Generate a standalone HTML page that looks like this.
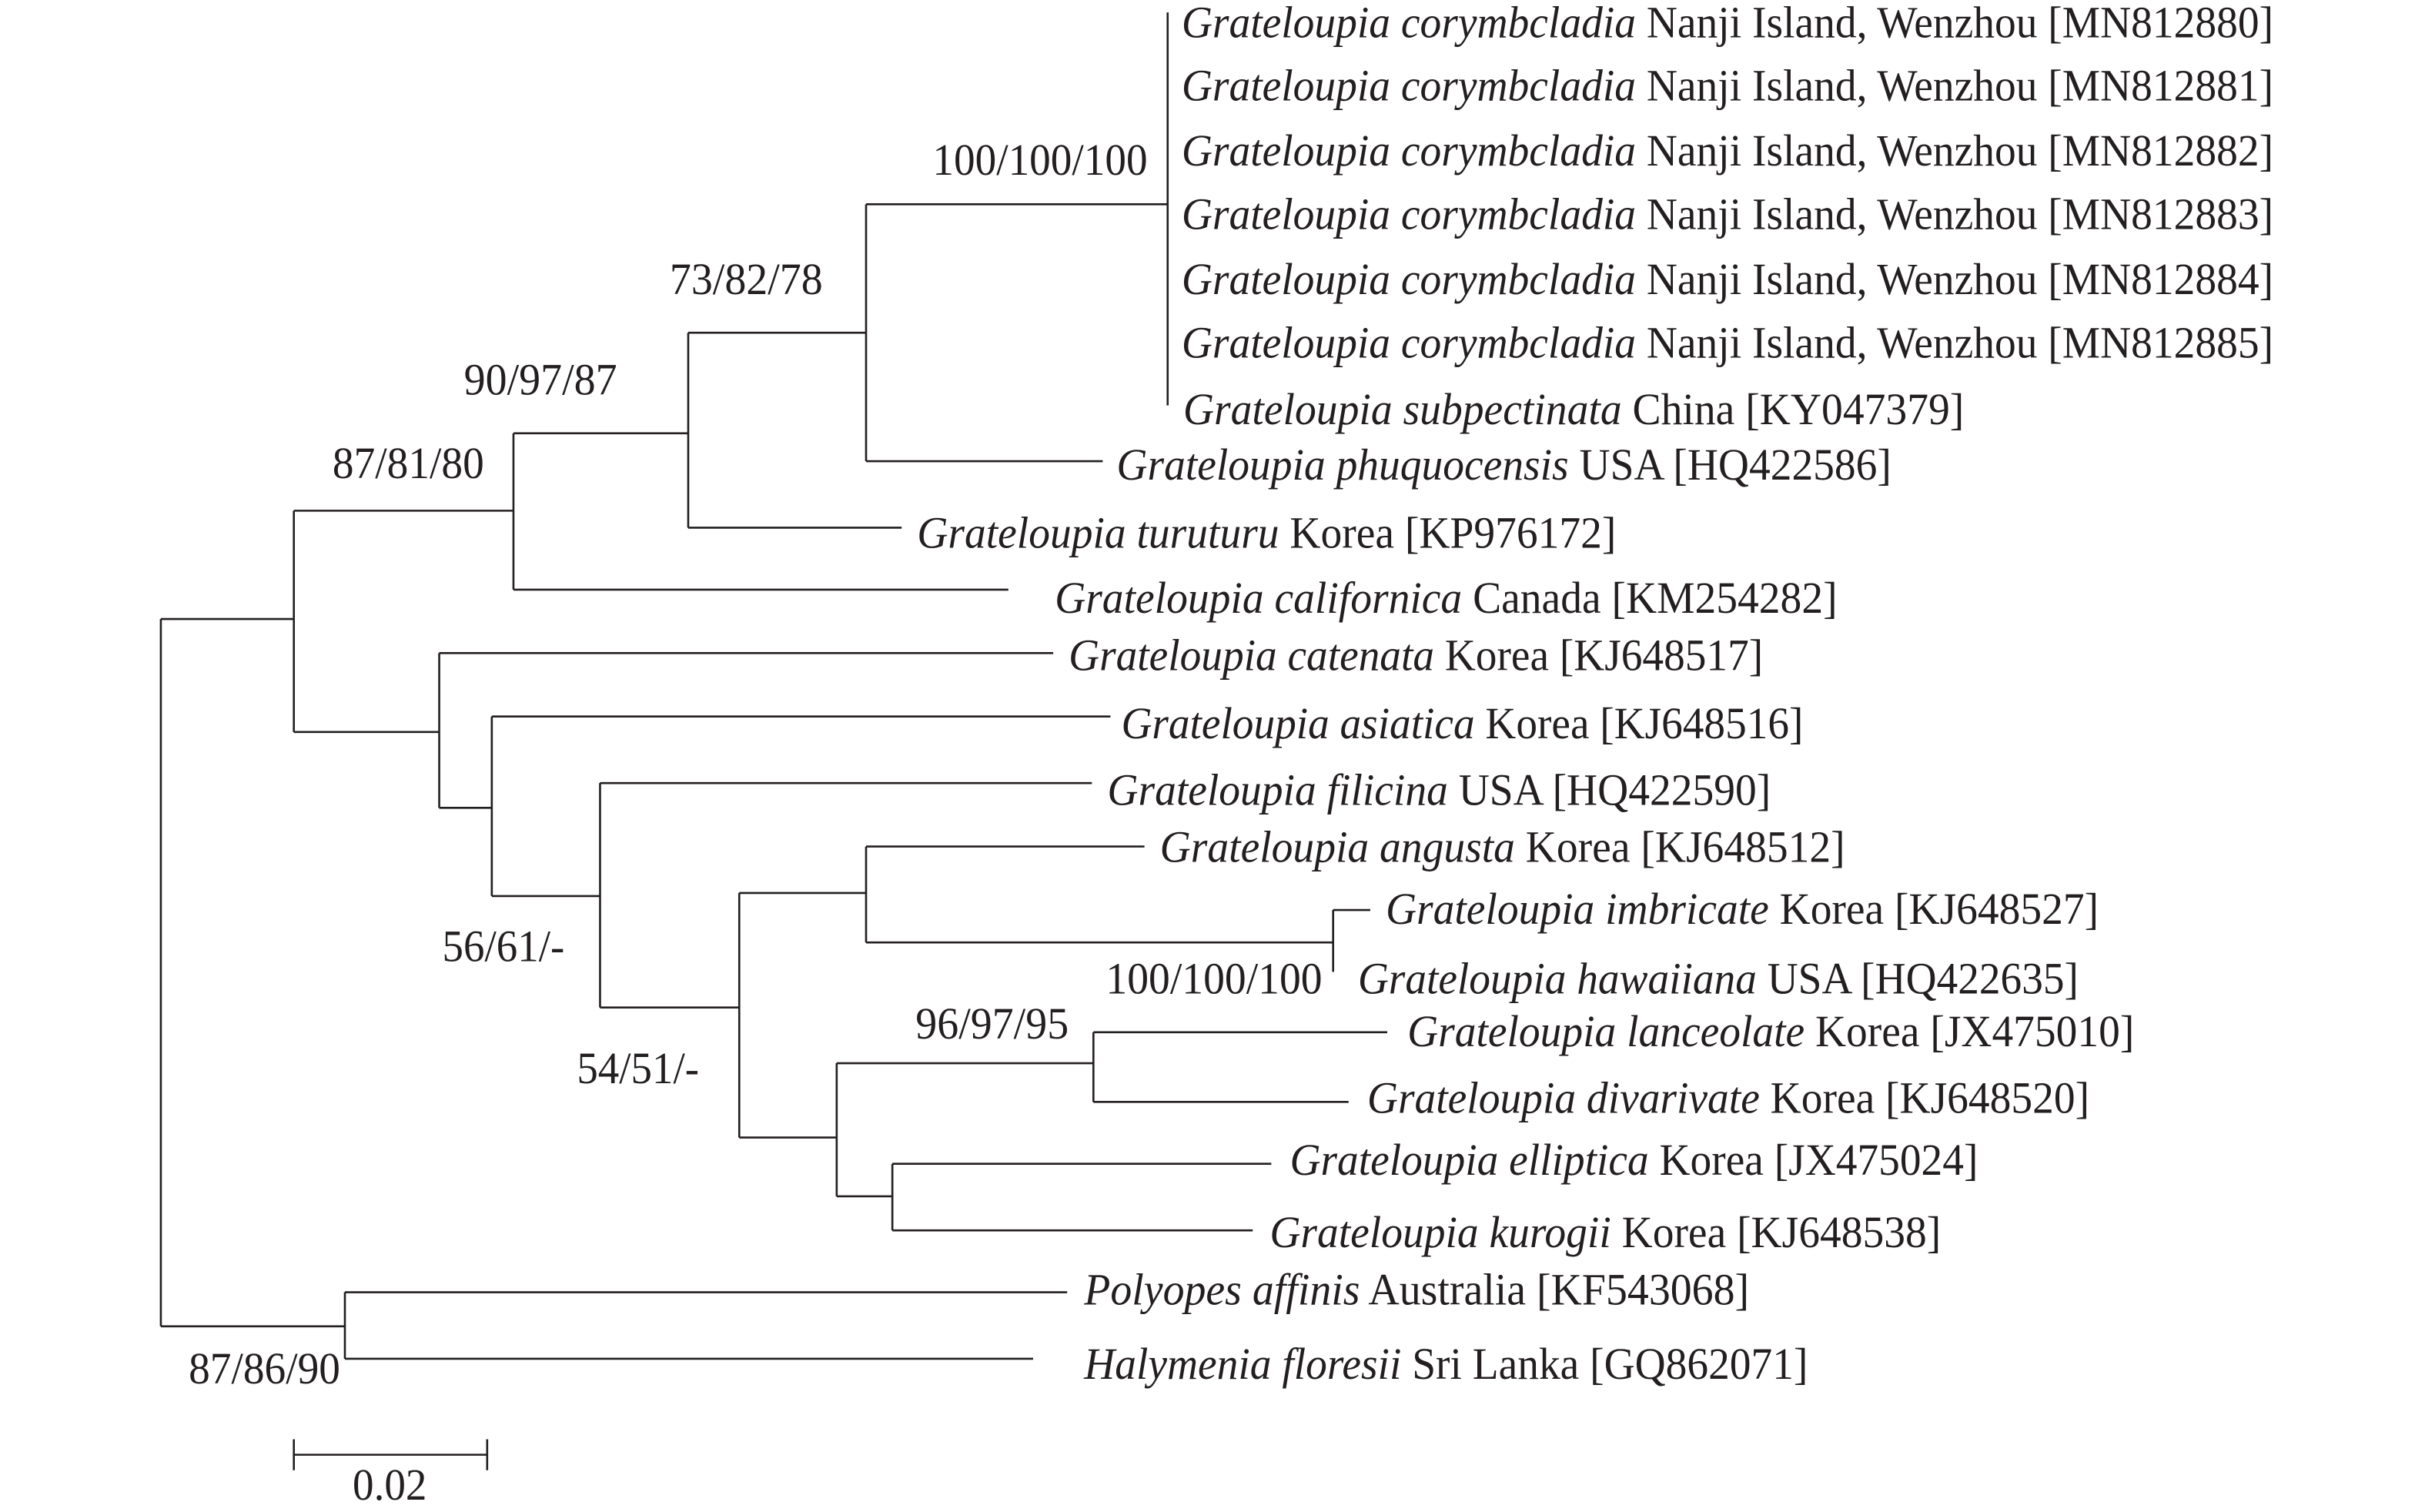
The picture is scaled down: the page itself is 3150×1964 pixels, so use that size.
<!DOCTYPE html>
<html><head><meta charset="utf-8"><style>
html,body{margin:0;padding:0;background:#fff;}
svg{display:block;}
text{font-family:"Liberation Serif",serif;font-size:29px;fill:#231f20;}
.i{font-style:italic;}
</style></head><body>
<svg width="3150" height="1964" viewBox="0 0 1568 977" preserveAspectRatio="none" xmlns="http://www.w3.org/2000/svg">
<g stroke="#231f20" stroke-width="1.3" fill="none">
<path d="M104,400V857"/>
<path d="M104,400H190"/><path d="M104,857H223"/>
<path d="M190,330V473"/><path d="M190,330H332"/><path d="M190,473H284"/>
<path d="M332,280V381"/><path d="M332,280H445"/><path d="M332,381H652"/>
<path d="M445,215V341"/><path d="M445,215H560"/><path d="M445,341H583"/>
<path d="M560,132V298"/><path d="M560,132H755"/><path d="M560,298H713"/>
<path d="M755,8V262"/>
<path d="M284,422V522"/><path d="M284,422H681"/><path d="M284,522H318"/>
<path d="M318,463V579"/><path d="M318,463H718"/><path d="M318,579H388"/>
<path d="M388,506V651"/><path d="M388,506H706"/><path d="M388,651H478"/>
<path d="M478,577V735"/><path d="M478,577H560"/><path d="M478,735H541"/>
<path d="M560,547V609"/><path d="M560,547H740"/><path d="M560,609H862"/>
<path d="M862,588V628"/><path d="M862,588H886"/>
<path d="M541,687V773"/><path d="M541,687H707"/><path d="M541,773H577"/>
<path d="M707,667V712"/><path d="M707,667H897"/><path d="M707,712H872"/>
<path d="M577,752V795"/><path d="M577,752H822"/><path d="M577,795H810"/>
<path d="M223,835V878"/><path d="M223,835H690"/><path d="M223,878H668"/>
<path d="M190,940H315"/><path d="M190,930V950"/><path d="M315,930V950"/>
</g>
<g>
<text x="764" y="24" textLength="706" lengthAdjust="spacingAndGlyphs"><tspan class="i">Grateloupia corymbcladia</tspan> Nanji Island, Wenzhou [MN812880]</text>
<text x="764" y="65" textLength="706" lengthAdjust="spacingAndGlyphs"><tspan class="i">Grateloupia corymbcladia</tspan> Nanji Island, Wenzhou [MN812881]</text>
<text x="764" y="107" textLength="706" lengthAdjust="spacingAndGlyphs"><tspan class="i">Grateloupia corymbcladia</tspan> Nanji Island, Wenzhou [MN812882]</text>
<text x="764" y="148" textLength="706" lengthAdjust="spacingAndGlyphs"><tspan class="i">Grateloupia corymbcladia</tspan> Nanji Island, Wenzhou [MN812883]</text>
<text x="764" y="190" textLength="706" lengthAdjust="spacingAndGlyphs"><tspan class="i">Grateloupia corymbcladia</tspan> Nanji Island, Wenzhou [MN812884]</text>
<text x="764" y="231" textLength="706" lengthAdjust="spacingAndGlyphs"><tspan class="i">Grateloupia corymbcladia</tspan> Nanji Island, Wenzhou [MN812885]</text>
<text x="765" y="274" textLength="505" lengthAdjust="spacingAndGlyphs"><tspan class="i">Grateloupia subpectinata</tspan> China [KY047379]</text>
<text x="722" y="310" textLength="501" lengthAdjust="spacingAndGlyphs"><tspan class="i">Grateloupia phuquocensis</tspan> USA [HQ422586]</text>
<text x="593" y="354" textLength="452" lengthAdjust="spacingAndGlyphs"><tspan class="i">Grateloupia turuturu</tspan> Korea [KP976172]</text>
<text x="682" y="396" textLength="506" lengthAdjust="spacingAndGlyphs"><tspan class="i">Grateloupia californica</tspan> Canada [KM254282]</text>
<text x="691" y="433" textLength="449" lengthAdjust="spacingAndGlyphs"><tspan class="i">Grateloupia catenata</tspan> Korea [KJ648517]</text>
<text x="725" y="477" textLength="441" lengthAdjust="spacingAndGlyphs"><tspan class="i">Grateloupia asiatica</tspan> Korea [KJ648516]</text>
<text x="716" y="520" textLength="429" lengthAdjust="spacingAndGlyphs"><tspan class="i">Grateloupia filicina</tspan> USA [HQ422590]</text>
<text x="750" y="557" textLength="443" lengthAdjust="spacingAndGlyphs"><tspan class="i">Grateloupia angusta</tspan> Korea [KJ648512]</text>
<text x="896" y="597" textLength="461" lengthAdjust="spacingAndGlyphs"><tspan class="i">Grateloupia imbricate</tspan> Korea [KJ648527]</text>
<text x="878" y="642" textLength="466" lengthAdjust="spacingAndGlyphs"><tspan class="i">Grateloupia hawaiiana</tspan> USA [HQ422635]</text>
<text x="910" y="676" textLength="470" lengthAdjust="spacingAndGlyphs"><tspan class="i">Grateloupia lanceolate</tspan> Korea [JX475010]</text>
<text x="884" y="719" textLength="467" lengthAdjust="spacingAndGlyphs"><tspan class="i">Grateloupia divarivate</tspan> Korea [KJ648520]</text>
<text x="834" y="759" textLength="445" lengthAdjust="spacingAndGlyphs"><tspan class="i">Grateloupia elliptica</tspan> Korea [JX475024]</text>
<text x="821" y="806" textLength="434" lengthAdjust="spacingAndGlyphs"><tspan class="i">Grateloupia kurogii</tspan> Korea [KJ648538]</text>
<text x="701" y="843" textLength="430" lengthAdjust="spacingAndGlyphs"><tspan class="i">Polyopes affinis</tspan> Australia [KF543068]</text>
<text x="701" y="891" textLength="468" lengthAdjust="spacingAndGlyphs"><tspan class="i">Halymenia floresii</tspan> Sri Lanka [GQ862071]</text>

<text x="603" y="113" textLength="139" lengthAdjust="spacingAndGlyphs">100/100/100</text>
<text x="433" y="190" textLength="99" lengthAdjust="spacingAndGlyphs">73/82/78</text>
<text x="300" y="255" textLength="99" lengthAdjust="spacingAndGlyphs">90/97/87</text>
<text x="215" y="309" textLength="98" lengthAdjust="spacingAndGlyphs">87/81/80</text>
<text x="286" y="621" textLength="79" lengthAdjust="spacingAndGlyphs">56/61/-</text>
<text x="373" y="700" textLength="79" lengthAdjust="spacingAndGlyphs">54/51/-</text>
<text x="592" y="671" textLength="99" lengthAdjust="spacingAndGlyphs">96/97/95</text>
<text x="715" y="642" textLength="140" lengthAdjust="spacingAndGlyphs">100/100/100</text>
<text x="122" y="894" textLength="98" lengthAdjust="spacingAndGlyphs">87/86/90</text>
<text x="228" y="969" textLength="48" lengthAdjust="spacingAndGlyphs">0.02</text>
</g>
</svg>
</body></html>
